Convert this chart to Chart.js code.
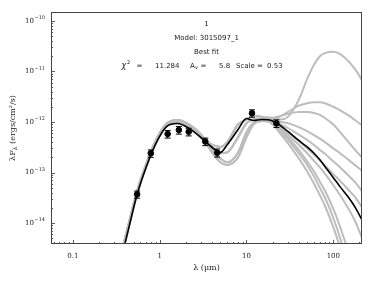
<!DOCTYPE html>
<html>
<head>
<meta charset="utf-8">
<script src="https://cdn.jsdelivr.net/npm/chart.js@4.4.1/dist/chart.umd.min.js"></script>
<style>
  body { margin: 0; background: #fff; }
  canvas { display: block; }
</style>
</head>
<body>
<canvas id="sed" width="374" height="281"></canvas>
<script>
// SED fit plot - best fit model (black) and the next best models (grey)

// model wavelength grid (micron)
const modelWave = [0.38, 0.45, 0.55, 0.7, 0.9, 1.2, 1.6, 2.2, 3, 4, 5, 6, 8, 10, 12, 15,
    20, 25, 30, 40, 50, 60, 70, 80, 100, 120, 150, 180, 220];

// best fit model, lambda F_lambda (ergs/cm^2/s)
const bestFit = [2.8e-15, 9.3e-15, 3.7e-14, 1.29e-13, 3.7e-13, 8.1e-13, 9.3e-13, 7.4e-13, 4.9e-13,
    3.16e-13, 2.5e-13, 3.55e-13, 7.1e-13, 1.17e-12, 1.07e-12, 1.12e-12,
    1.05e-12, 8.3e-13, 6.5e-13, 4.3e-13, 3.2e-13, 2.4e-13, 1.78e-13, 1.32e-13, 7.9e-14, 5.2e-14, 3.2e-14, 2.0e-14, 1.05e-14];

// other acceptable fits
const greyFit1 = [3.2e-15, 1.05e-14, 4.0e-14, 1.38e-13, 4.0e-13, 8.7e-13, 1.02e-12, 8.1e-13, 5.2e-13,
    3.55e-13, 3.2e-13, 4.0e-13, 8.9e-13, 1.12e-12, 1.32e-12, 1.26e-12,
    1.2e-12, 1.12e-12, 1.26e-12, 2.75e-12, 7.1e-12, 1.35e-11, 2.0e-11, 2.3e-11, 2.45e-11, 2.2e-11, 1.58e-11, 1.07e-11, 6.3e-12];
const greyFit2 = [3.6e-15, 1.15e-14, 4.4e-14, 1.5e-13, 4.3e-13, 9.3e-13, 1.1e-12, 8.9e-13, 5.6e-13,
    3.2e-13, 2.4e-13, 2.5e-13, 5.0e-13, 9.5e-13, 1.12e-12, 1.15e-12,
    1.12e-12, 1.32e-12, 1.58e-12, 2.1e-12, 2.35e-12, 2.45e-12, 2.45e-12, 2.35e-12, 2.0e-12, 1.7e-12, 1.35e-12, 1.07e-12, 8.3e-13];
const greyFit3 = [3.2e-15, 1.05e-14, 4.0e-14, 1.38e-13, 4.0e-13, 8.7e-13, 1.02e-12, 8.1e-13, 5.2e-13,
    2.8e-13, 1.9e-13, 1.6e-13, 2.5e-13, 6.3e-13, 9.5e-13, 1.05e-12,
    1.2e-12, 1.32e-12, 1.45e-12, 1.58e-12, 1.58e-12, 1.51e-12, 1.38e-12, 1.2e-12, 8.9e-13, 6.3e-13, 4.0e-13, 2.75e-13, 1.9e-13];
const greyFit4 = [2.9e-15, 9.8e-15, 3.8e-14, 1.3e-13, 3.8e-13, 8.3e-13, 9.8e-13, 7.8e-13, 4.9e-13,
    3.2e-13, 2.4e-13, 2.5e-13, 5.0e-13, 9.5e-13, 1.12e-12, 1.15e-12,
    1.07e-12, 1.0e-12, 9.5e-13, 7.9e-13, 6.6e-13, 5.5e-13, 4.7e-13, 4.0e-13, 3.0e-13, 2.4e-13, 1.78e-13, 1.38e-13, 1.05e-13];
const greyFit5 = [3.6e-15, 1.15e-14, 4.4e-14, 1.5e-13, 4.3e-13, 9.3e-13, 1.1e-12, 8.9e-13, 5.6e-13,
    2.5e-13, 1.6e-13, 1.41e-13, 2.0e-13, 5.0e-13, 8.9e-13, 1.05e-12,
    1.05e-12, 8.9e-13, 7.6e-13, 5.6e-13, 4.4e-13, 3.5e-13, 2.8e-13, 2.35e-13, 1.66e-13, 1.26e-13, 8.7e-14, 6.3e-14, 4.0e-14];
const greyFit6 = [3.2e-15, 1.05e-14, 4.0e-14, 1.38e-13, 4.0e-13, 8.7e-13, 1.02e-12, 8.1e-13, 5.2e-13,
    3.55e-13, 3.2e-13, 4.0e-13, 8.9e-13, 1.12e-12, 1.32e-12, 1.26e-12,
    1.0e-12, 7.9e-13, 6.3e-13, 4.2e-13, 3.0e-13, 2.24e-13, 1.74e-13, 1.38e-13, 9.3e-14, 6.8e-14, 4.5e-14, 3.2e-14, 1.9e-14];
const greyFit7 = [2.9e-15, 9.8e-15, 3.8e-14, 1.3e-13, 3.8e-13, 8.3e-13, 9.8e-13, 7.8e-13, 4.9e-13,
    2.8e-13, 1.9e-13, 1.6e-13, 2.5e-13, 6.3e-13, 9.5e-13, 1.05e-12,
    1.0e-12, 7.6e-13, 5.6e-13, 3.55e-13, 2.4e-13, 1.7e-13, 1.26e-13, 9.5e-14, 5.6e-14, 3.55e-14, 1.9e-14, 1.05e-14, 4.5e-15];
const greyFit8 = [3.6e-15, 1.15e-14, 4.4e-14, 1.5e-13, 4.3e-13, 9.3e-13, 1.1e-12, 8.9e-13, 5.6e-13,
    2.5e-13, 1.6e-13, 1.41e-13, 2.0e-13, 5.0e-13, 8.9e-13, 1.05e-12,
    9.5e-13, 6.3e-13, 4.5e-13, 2.4e-13, 1.41e-13, 8.3e-14, 5.0e-14, 3.2e-14, 1.26e-14, 5.0e-15, 1.26e-15, 3.2e-16, 6.3e-17];
const greyFit9 = [3.2e-15, 1.05e-14, 4.0e-14, 1.38e-13, 4.0e-13, 8.7e-13, 1.02e-12, 8.1e-13, 5.2e-13,
    3.2e-13, 2.4e-13, 2.5e-13, 5.0e-13, 9.5e-13, 1.12e-12, 1.15e-12,
    8.9e-13, 5.6e-13, 3.8e-13, 1.9e-13, 1.05e-13, 6.0e-14, 3.55e-14, 2.2e-14, 8.3e-15, 3.2e-15, 7.9e-16, 2.0e-16, 4.0e-17];
const greyFit10 = [2.9e-15, 9.8e-15, 3.8e-14, 1.3e-13, 3.8e-13, 8.3e-13, 9.8e-13, 7.8e-13, 4.9e-13,
    3.55e-13, 3.2e-13, 4.0e-13, 8.9e-13, 1.12e-12, 1.32e-12, 1.26e-12,
    1.05e-12, 7.1e-13, 5.0e-13, 2.8e-13, 1.66e-13, 1.05e-13, 6.6e-14, 4.4e-14, 1.9e-14, 8.3e-15, 2.5e-15, 6.3e-16, 1.26e-16];
const greyFits = [greyFit1, greyFit2, greyFit3, greyFit4, greyFit5, greyFit6, greyFit7, greyFit8, greyFit9, greyFit10];

// observed photometry
const obsWave = [0.55, 0.79, 1.235, 1.662, 2.159, 3.35, 4.6, 11.56, 22.1];
const obsFlux = [3.7e-14, 2.4e-13, 5.8e-13, 6.95e-13, 6.4e-13, 4.1e-13, 2.47e-13, 1.49e-12, 9.4e-13];
const obsErr = [0.6e-14, 0.4e-13, 1.0e-13, 1.2e-13, 1.1e-13, 0.7e-13, 0.45e-13, 0.25e-12, 0.16e-12];

// axes
const xMin = 0.056, xMax = 214;
const yMin = 3.85e-15, yMax = 1.5e-10;
const xMajorTicks = [0.1, 1, 10, 100];
const xTickLabels = ['0.1', '1', '10', '100'];
const yMajorTicks = [1e-14, 1e-13, 1e-12, 1e-11, 1e-10];
const yTickExp = ['\u221214', '\u221213', '\u221212', '\u221211', '\u221210'];

// fit summary
const fitId = '1';
const modelName = 'Model: 3015097_1';
const fitLabel = 'Best fit';
const chi2 = '11.284', av = '5.8', scale = '0.53';

function logTicks(min, max) {
    const out = [];
    for (let e = Math.floor(Math.log10(min)); e <= Math.ceil(Math.log10(max)); e++) {
        for (let m = 1; m <= 9; m++) {
            const v = m * Math.pow(10, e);
            if (v >= min && v <= max) out.push({ value: v });
        }
    }
    return out;
}

function isDecade(v) {
    const l = Math.log10(v);
    return Math.abs(l - Math.round(l)) < 1e-6;
}

const curve = (vals) => modelWave.map((w, i) => ({ x: w, y: vals[i] }));

const datasets = [];
greyFits.forEach(f => datasets.push({
    data: curve(f),
    borderColor: '#bdbdbd',
    borderWidth: 2,
    pointRadius: 0,
    cubicInterpolationMode: 'monotone',
    clip: 0,
    order: 4
}));
datasets.push({
    data: curve(bestFit),
    borderColor: '#000',
    borderWidth: 1.6,
    pointRadius: 0,
    cubicInterpolationMode: 'monotone',
    clip: 0,
    order: 3
});
obsWave.forEach((w, i) => datasets.push({
    data: [{ x: w, y: obsFlux[i] - obsErr[i] }, { x: w, y: obsFlux[i] + obsErr[i] }],
    borderColor: '#000',
    borderWidth: 1,
    pointStyle: 'line',
    pointRadius: 3,
    pointBorderWidth: 1,
    pointBorderColor: '#000',
    order: 2
}));
datasets.push({
    data: obsWave.map((w, i) => ({ x: w, y: obsFlux[i] })),
    showLine: false,
    pointRadius: 2.8,
    pointBackgroundColor: '#000',
    pointBorderColor: '#000',
    order: 1
});

// frame, inward ticks, y tick labels, axis titles and the fit summary
const sedDecor = {
    id: 'sedDecor',
    afterDatasetsDraw(chart) {
        const { ctx, chartArea: a, scales: { x, y } } = chart;
        ctx.save();
        ctx.strokeStyle = '#333';
        ctx.lineWidth = 0.8;
        ctx.beginPath();
        x.ticks.forEach(t => {
            const px = Math.round(x.getPixelForValue(t.value)) + 0.5;
            const len = isDecade(t.value) ? 4 : 2;
            ctx.moveTo(px, a.bottom);
            ctx.lineTo(px, a.bottom - len);
        });
        y.ticks.forEach(t => {
            const py = Math.round(y.getPixelForValue(t.value)) + 0.5;
            const len = isDecade(t.value) ? 4 : 2;
            ctx.moveTo(a.left, py);
            ctx.lineTo(a.left + len, py);
        });
        ctx.stroke();
        ctx.strokeStyle = '#444';
        ctx.lineWidth = 1;
        ctx.strokeRect(a.left + 0.5, a.top + 0.5, a.right - a.left - 1, a.bottom - a.top - 1);
        ctx.restore();
    },
    afterDraw(chart) {
        const { ctx, chartArea: a, scales: { y } } = chart;
        const cx = (a.left + a.right) / 2;
        ctx.save();
        ctx.fillStyle = '#222';

        // y tick labels 10^n
        ctx.textBaseline = 'middle';
        yMajorTicks.forEach((v, i) => {
            const py = y.getPixelForValue(v);
            ctx.font = '5px "DejaVu Serif"';
            const ew = ctx.measureText(yTickExp[i]).width;
            ctx.textAlign = 'right';
            ctx.fillText(yTickExp[i], a.left - 6, py - 3);
            ctx.font = '7px "DejaVu Serif"';
            ctx.fillText('10', a.left - 6 - ew - 0.5, py);
        });

        // x axis title
        ctx.textAlign = 'center';
        ctx.font = '8px "DejaVu Serif"';
        ctx.fillText('\u03bb (\u03bcm)', cx, 267.5);

        // y axis title, rotated
        ctx.save();
        ctx.translate(13, (a.top + a.bottom) / 2);
        ctx.rotate(-Math.PI / 2);
        ctx.textAlign = 'left';
        const big = '8px "DejaVu Serif"', small = '6px "DejaVu Serif"';
        const p1 = '\u03bbF', p2 = '\u03bb', p3 = ' (ergs/cm\u00b2/s)';
        ctx.font = big; const w1 = ctx.measureText(p1).width, w3 = ctx.measureText(p3).width;
        ctx.font = small; const w2 = ctx.measureText(p2).width;
        let tx = -(w1 + w2 + w3) / 2;
        ctx.font = big; ctx.fillText(p1, tx, 0); tx += w1;
        ctx.font = small; ctx.fillText(p2, tx, 2); tx += w2;
        ctx.font = big; ctx.fillText(p3, tx, 0);
        ctx.restore();

        // fit summary
        ctx.textAlign = 'center';
        ctx.font = '7px "DejaVu Sans"';
        ctx.fillText(fitId, cx, a.top + 12);
        ctx.fillText(modelName, cx, a.top + 26);
        ctx.fillText(fitLabel, cx, a.top + 40);
        const ly = a.top + 54;
        ctx.textAlign = 'left';
        ctx.font = 'italic 8px "DejaVu Sans"';
        ctx.fillText('\u03c7', cx - 85, ly);
        ctx.font = '5px "DejaVu Sans"';
        ctx.fillText('2', cx - 79.5, ly - 3);
        ctx.font = '7px "DejaVu Sans"';
        ctx.fillText('=', cx - 70, ly);
        ctx.fillText(chi2, cx - 51.5, ly);
        ctx.fillText('A', cx - 16.5, ly);
        ctx.font = '5px "DejaVu Sans"';
        ctx.fillText('v', cx - 11.5, ly + 2);
        ctx.font = '7px "DejaVu Sans"';
        ctx.fillText('=', cx - 6, ly);
        ctx.fillText(av, cx + 12.5, ly);
        ctx.fillText('Scale =', cx + 29.5, ly);
        ctx.fillText(scale, cx + 60.5, ly);
        ctx.restore();
    }
};

new Chart(document.getElementById('sed'), {
    type: 'line',
    data: { datasets },
    options: {
        responsive: false,
        animation: false,
        layout: { padding: { top: 12, right: 12, left: 0, bottom: 0 } },
        plugins: { legend: { display: false }, tooltip: { enabled: false } },
        scales: {
            x: {
                type: 'logarithmic',
                min: xMin,
                max: xMax,
                afterBuildTicks: s => { s.ticks = logTicks(xMin, xMax); },
                afterFit: s => { s.height = 37; },
                grid: { display: false, drawTicks: false },
                border: { display: false },
                ticks: {
                    autoSkip: false,
                    maxRotation: 0,
                    padding: 8,
                    color: '#222',
                    font: { family: 'DejaVu Serif', size: 7 },
                    callback: v => {
                        const i = xMajorTicks.findIndex(m => Math.abs(m - v) < m * 1e-6);
                        return i >= 0 ? xTickLabels[i] : '';
                    }
                }
            },
            y: {
                type: 'logarithmic',
                min: yMin,
                max: yMax,
                afterBuildTicks: s => { s.ticks = logTicks(yMin, yMax); },
                afterFit: s => { s.width = 51; },
                grid: { display: false, drawTicks: false },
                border: { display: false },
                ticks: { display: false }
            }
        }
    },
    plugins: [sedDecor]
});
</script>
</body>
</html>
